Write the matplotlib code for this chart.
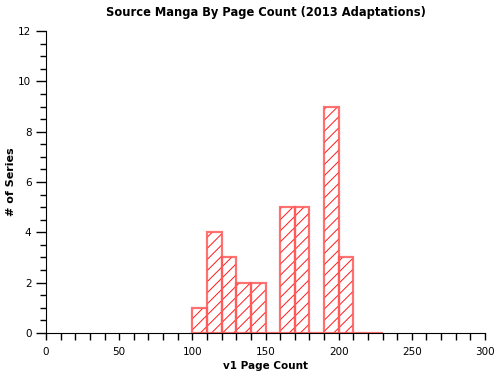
import matplotlib
matplotlib.use('Agg')
import matplotlib.pyplot as plt
from matplotlib.ticker import MultipleLocator

# histogram bins (page count) and counts
bin_edges = [100, 110, 120, 130, 140, 150, 160, 170, 180, 190, 200, 210, 220, 230]
counts = [1, 4, 3, 2, 2, 0, 5, 5, 0, 9, 3, 0, 0]

plt.rcParams['hatch.linewidth'] = 0.7
plt.rcParams['font.family'] = 'DejaVu Sans'

fig = plt.figure(figsize=(5, 3.8), dpi=100)
ax = fig.add_axes([0.092, 0.124, 0.878, 0.794])

left = bin_edges[:-1]
width = [b - a for a, b in zip(bin_edges[:-1], bin_edges[1:])]

# hatch fill
ax.bar(left, counts, width=width, align='edge', facecolor='none',
       edgecolor='#ff1a1a', hatch='///', linewidth=0)
# outline
ax.bar(left, counts, width=width, align='edge', facecolor='none',
       edgecolor=(1, 0.35, 0.35, 0.85), linewidth=1.6)

ax.set_xlim(0, 300)
ax.set_ylim(0, 12)
ax.xaxis.set_major_locator(MultipleLocator(50))
ax.xaxis.set_minor_locator(MultipleLocator(10))
ax.yaxis.set_major_locator(MultipleLocator(2))
ax.yaxis.set_minor_locator(MultipleLocator(0.5))

ax.spines['top'].set_visible(False)
ax.spines['right'].set_visible(False)
ax.tick_params(axis='x', which='both', direction='out', length=5, width=1, labelsize=7.5, pad=5)
ax.tick_params(axis='y', which='major', direction='out', length=7, width=1, labelsize=7.5)
ax.tick_params(axis='y', which='minor', direction='out', length=4, width=1)

ax.set_xlabel('v1 Page Count', fontsize=7.5, fontweight='bold', labelpad=3)
ax.set_ylabel('# of Series', fontsize=8, fontweight='bold')
ax.yaxis.set_label_coords(-0.068, 0.5)
ax.set_title('Source Manga By Page Count (2013 Adaptations)', fontsize=8.3,
             fontweight='bold', pad=11)

fig.savefig('out.png', dpi=100)
